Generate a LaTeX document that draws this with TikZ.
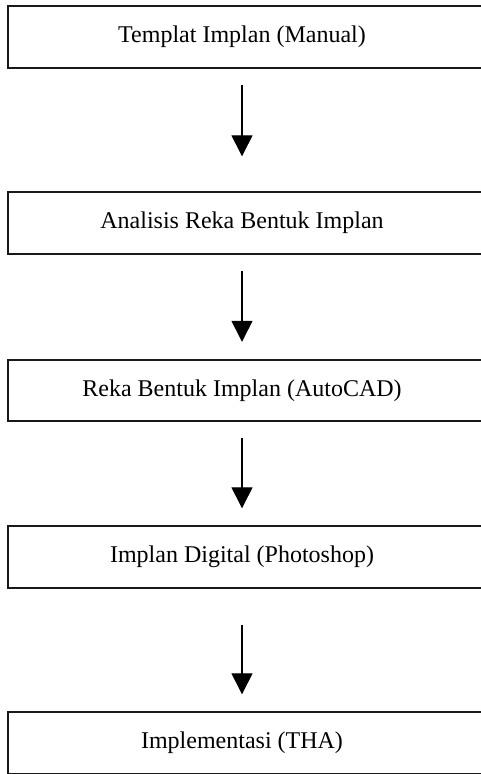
\documentclass[tikz,border=0pt]{standalone}
\usepackage{fontspec}
\setmainfont{Liberation Serif}
\usetikzlibrary{arrows.meta}
\begin{document}
\begin{tikzpicture}[x=1pt,y=1pt,
  stepbox/.style={minimum width=468pt,minimum height=61pt,inner sep=0pt,
    font=\fontsize{24}{28}\selectfont},
  boxline/.style={line width=1.8pt,black!90},
  arr/.style={line width=1.3pt,-{Triangle[width=21pt,length=21pt]}}]
\useasboundingbox (0,0) rectangle (481,-774);
\fill[white] (0,0) rectangle (481,-774);
\clip (0,0) rectangle (481,-774);
\node[stepbox] (b1) at (242,-37) {Templat Implan (Manual)};
\node[stepbox] (b2) at (242,-223) {Analisis Reka Bentuk Implan};
\node[stepbox] (b3) at (242,-390.5) {Reka Bentuk Implan (AutoCAD)};
\node[stepbox] (b4) at (242,-557) {Implan Digital (Photoshop)};
\node[stepbox] (b5) at (242,-743) {Implementasi (THA)};
\foreach \b in {b1,b2,b3,b4,b5}{
  \draw[boxline] ([xshift=30pt]\b.north east) -- (\b.north west) -- (\b.south west) -- ([xshift=30pt]\b.south east);
}
\draw[arr,shorten <=17pt,shorten >=36pt] (b1) -- (b2);
\draw[arr,shorten <=17pt,shorten >=18pt] (b2) -- (b3);
\draw[arr,shorten <=17pt,shorten >=18pt] (b3) -- (b4);
\draw[arr,shorten <=37pt,shorten >=18pt] (b4) -- (b5);
\end{tikzpicture}
\end{document}
